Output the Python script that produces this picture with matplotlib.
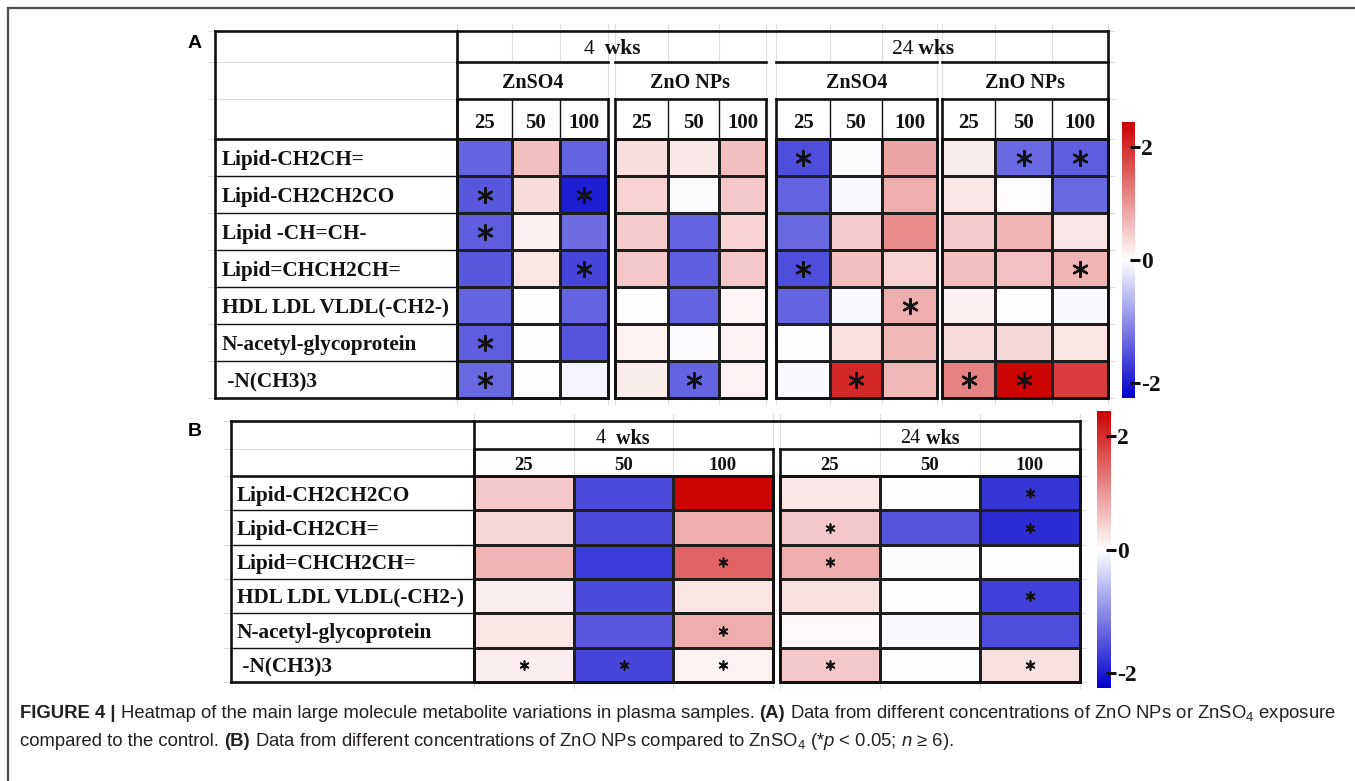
import numpy as np
import matplotlib
matplotlib.use('Agg')
import matplotlib.pyplot as plt
from matplotlib.colors import LinearSegmentedColormap, TwoSlopeNorm
from matplotlib.cm import ScalarMappable

plt.rcParams['mathtext.fontset'] = 'custom'
plt.rcParams['mathtext.rm'] = 'Liberation Sans'
plt.rcParams['mathtext.it'] = 'Liberation Sans:italic'
plt.rcParams['mathtext.bf'] = 'Liberation Sans:bold'

SERIF = 'Liberation Serif'
SANS = 'Liberation Sans'

# ---- panel A: change vs control (rows x doses 25/50/100) ----
rows_a = ['Lipid-CH2CH=', 'Lipid-CH2CH2CO', 'Lipid -CH=CH-', 'Lipid=CHCH2CH=',
          'HDL LDL VLDL(-CH2-)', 'N-acetyl-glycoprotein', ' -N(CH3)3']
doses = ['25', '50', '100']
treatments = ['ZnSO4', 'ZnO NPs']
weeks = ['4', '24']

a_4w_znso4 = [[-1.37, 0.62, -1.37],
              [-1.46, 0.34, -1.98],
              [-1.41, 0.14, -1.28],
              [-1.46, 0.26, -1.63],
              [-1.37, 0.00, -1.37],
              [-1.41, 0.01, -1.50],
              [-1.32, 0.02, -0.09]]
a_4w_zno = [[0.32, 0.22, 0.62],
            [0.43, -0.03, 0.53],
            [0.48, -1.37, 0.43],
            [0.53, -1.41, 0.53],
            [0.01, -1.37, 0.10],
            [0.12, -0.03, 0.12],
            [0.19, -1.37, 0.12]]
a_24w_znso4 = [[-1.55, -0.02, 0.87],
               [-1.37, -0.06, 0.77],
               [-1.32, 0.48, 1.10],
               [-1.55, 0.62, 0.43],
               [-1.37, -0.06, 0.77],
               [0.00, 0.29, 0.67],
               [-0.04, 2.06, 0.67]]
a_24w_zno = [[0.19, -1.32, -1.41],
             [0.24, 0.02, -1.32],
             [0.48, 0.72, 0.24],
             [0.62, 0.60, 0.72],
             [0.14, 0.00, -0.04],
             [0.34, 0.38, 0.26],
             [1.20, 2.40, 1.87]]

sig_a_4w_znso4 = [[0, 0, 0], [1, 0, 1], [1, 0, 0], [0, 0, 1], [0, 0, 0], [1, 0, 0], [1, 0, 0]]
sig_a_4w_zno = [[0, 0, 0], [0, 0, 0], [0, 0, 0], [0, 0, 0], [0, 0, 0], [0, 0, 0], [0, 1, 0]]
sig_a_24w_znso4 = [[1, 0, 0], [0, 0, 0], [0, 0, 0], [1, 0, 0], [0, 0, 1], [0, 0, 0], [0, 1, 0]]
sig_a_24w_zno = [[0, 1, 1], [0, 0, 0], [0, 0, 0], [0, 0, 1], [0, 0, 0], [0, 0, 0], [1, 1, 0]]

# ---- panel B: ZnO NPs vs ZnSO4 ----
rows_b = ['Lipid-CH2CH2CO', 'Lipid-CH2CH=', 'Lipid=CHCH2CH=', 'HDL LDL VLDL(-CH2-)',
          'N-acetyl-glycoprotein', ' -N(CH3)3']
b_4w = [[0.53, -1.59, 2.40],
        [0.38, -1.59, 0.77],
        [0.72, -1.72, 1.49],
        [0.16, -1.59, 0.26],
        [0.26, -1.46, 0.77],
        [0.16, -1.63, 0.12]]
b_24w = [[0.22, 0.00, -1.76],
         [0.53, -1.50, -1.85],
         [0.77, -0.03, 0.00],
         [0.29, 0.01, -1.68],
         [0.05, -0.05, -1.55],
         [0.53, 0.00, 0.29]]
sig_b_4w = [[0, 0, 0], [0, 0, 0], [0, 0, 1], [0, 0, 0], [0, 0, 1], [1, 1, 1]]
sig_b_24w = [[0, 0, 1], [1, 0, 1], [1, 0, 0], [0, 0, 1], [0, 0, 0], [1, 0, 1]]

cbar_ticks = [2, 0, -2]

cmap = LinearSegmentedColormap.from_list('bwr_dark', ['#0000cc', '#ffffff', '#cc0000'])
norm = TwoSlopeNorm(vmin=-2.25, vcenter=0, vmax=2.45)

W, H = 1355, 781
fig = plt.figure(figsize=(W / 100, H / 100), dpi=100)
ax = fig.add_axes([0, 0, 1, 1])
ax.set_xlim(0, W)
ax.set_ylim(H, 0)
ax.axis('off')
renderer = fig.canvas.get_renderer()

OUT = 1.9
IN = 1.0
GRID = '#dedede'
INK = '#111111'
VA = 'center_baseline'


def hline(y, x0, x1, lw=OUT, color=INK, z=4):
    ax.plot([x0, x1], [y, y], color=color, lw=lw, solid_capstyle='projecting', zorder=z)


def vline(x, y0, y1, lw=OUT, color=INK, z=4):
    ax.plot([x, x], [y0, y1], color=color, lw=lw, solid_capstyle='projecting', zorder=z)


def text_width(s, size, family, weight):
    # width with spaces counted: pad with dots on both sides
    t1 = ax.text(0, 0, '.' + s + '.', fontsize=size, family=family, weight=weight)
    t2 = ax.text(0, 0, '..', fontsize=size, family=family, weight=weight)
    w = t1.get_window_extent(renderer).width - t2.get_window_extent(renderer).width
    t1.remove()
    t2.remove()
    return w


def draw_runs(x, y, runs, size, family, color=INK, center=False, va='center'):
    widths = [text_width(s, size, family, w) for s, w in runs]
    total = sum(widths)
    cx = x - total / 2 if center else x
    for (s, w), wd in zip(runs, widths):
        ax.text(cx, y, s, fontsize=size, family=family, weight=w, color=color,
                va=va, ha='left', zorder=6)
        cx += wd
    return total


def heat_block(xe, ye, vals, sig, star_s, star_lw):
    ax.pcolormesh(xe, ye, np.array(vals), cmap=cmap, norm=norm,
                  edgecolors='#1e1e1e', linewidth=IN, zorder=2)
    xe = np.asarray(xe, float)
    ye = np.asarray(ye, float)
    xc = (xe[:-1] + xe[1:]) / 2
    yc = (ye[:-1] + ye[1:]) / 2
    ii, jj = np.nonzero(np.array(sig))
    ax.scatter(xc[jj], yc[ii], marker=(6, 2, 0), s=star_s, linewidths=star_lw,
               color=INK, zorder=5)


def colorbar(x, y, w, h):
    cax = fig.add_axes([x / W, 1 - (y + h) / H, w / W, h / H])
    cb = fig.colorbar(ScalarMappable(norm=norm, cmap=cmap), cax=cax)
    cb.outline.set_visible(False)
    cb.set_ticks(cbar_ticks)
    cb.set_ticklabels([str(t) for t in cbar_ticks])
    cax.tick_params(direction='inout', length=7, width=2.2, pad=1, colors=INK)
    for lab in cax.get_yticklabels():
        lab.set_fontfamily(SERIF)
        lab.set_fontweight('bold')
        lab.set_fontsize(17)


# outer frame of the figure
hline(8, 8, W, lw=1.6, color='#4d4d4d')
vline(8, 8, H, lw=1.6, color='#4d4d4d')

# ================= panel A =================
A_L, A_R, A_T, A_B, A_LAB = 215, 1108, 31, 398, 457
A_HDR = [31, 62, 99, 139]
a_rows = np.linspace(139, 398, len(rows_a) + 1)
a_groups = [[457, 512, 560, 608], [615, 668, 719, 766],
            [776, 830, 882, 937], [942, 995, 1052, 1108]]
a_blocks = [(a_4w_znso4, sig_a_4w_znso4), (a_4w_zno, sig_a_4w_zno),
            (a_24w_znso4, sig_a_24w_znso4), (a_24w_zno, sig_a_24w_zno)]

# light spreadsheet grid
for g in a_groups:
    for x in g:
        vline(x, A_T, A_HDR[1], lw=0.8, color=GRID, z=1)
        vline(x, A_T - 7, A_T, lw=0.8, color=GRID, z=1)
        vline(x, A_B, A_B + 6, lw=0.8, color=GRID, z=1)
    vline(g[0], A_HDR[1], A_HDR[2], lw=0.8, color=GRID, z=1)
    vline(g[-1], A_HDR[1], A_HDR[2], lw=0.8, color=GRID, z=1)
for y in list(A_HDR) + list(a_rows):
    hline(y, A_L - 7, A_L, lw=0.8, color=GRID, z=1)
    hline(y, A_R, A_R + 6, lw=0.8, color=GRID, z=1)
hline(A_HDR[1], A_L, A_LAB, lw=0.8, color=GRID, z=1)
hline(A_HDR[2], A_L, A_LAB, lw=0.8, color=GRID, z=1)

for g, (vals, sig) in zip(a_groups, a_blocks):
    heat_block(g, a_rows, vals, sig, star_s=115, star_lw=1.7)

hline(A_T, A_L, A_R)
vline(A_L, A_T, A_B)
vline(A_R, A_T, A_B)
vline(A_LAB, A_T, A_B)
hline(A_B, A_L, A_LAB)
hline(A_HDR[3], A_L, A_LAB)
for y in a_rows[1:-1]:
    hline(y, A_L, A_LAB, lw=IN)
for g in a_groups:
    hline(A_HDR[1], g[0], g[-1])
    hline(A_HDR[2], g[0], g[-1])
    hline(A_HDR[3], g[0], g[-1])
    hline(A_B, g[0], g[-1])
    vline(g[0], A_HDR[2], A_B)
    vline(g[-1], A_HDR[2], A_B)
    for x in g[1:-1]:
        vline(x, A_HDR[2], A_HDR[3], lw=IN)

# headers
draw_runs(612, 47, [(weeks[0], 'normal'), ('  wks', 'bold')], 15.5, SERIF, center=True, va=VA)
draw_runs(923, 47, [(weeks[1], 'normal'), (' wks', 'bold')], 15.5, SERIF, center=True, va=VA)
for k, g in enumerate(a_groups):
    ax.text((g[0] + g[-1]) / 2, 81, treatments[k % 2], fontsize=14.5, family=SERIF,
            weight='bold', ha='center', va=VA, color=INK)
    for j, d in enumerate(doses):
        ax.text((g[j] + g[j + 1]) / 2, 120, d, fontsize=15, family=SERIF,
                weight='bold', ha='center', va=VA, color=INK)
for i, lab in enumerate(rows_a):
    ax.text(A_L + 7, (a_rows[i] + a_rows[i + 1]) / 2, lab, fontsize=15.3, family=SERIF,
            weight='bold', ha='left', va=VA, color=INK)

ax.text(195, 44, 'A', fontsize=14, family=SANS, weight='bold', ha='center', va='center')
colorbar(1122, 122, 13, 276)

# ================= panel B =================
B_L, B_R, B_T, B_B, B_LAB = 231, 1080, 421, 682, 474
B_HDR = [421, 449, 476]
b_rows = np.linspace(476, 682, len(rows_b) + 1)
b_groups = [[474, 574, 673, 773], [780, 880, 980, 1080]]
b_blocks = [(b_4w, sig_b_4w), (b_24w, sig_b_24w)]

for g in b_groups:
    for x in g:
        vline(x, B_T, B_HDR[2], lw=0.8, color=GRID, z=1)
        vline(x, B_T - 7, B_T, lw=0.8, color=GRID, z=1)
        vline(x, B_B, B_B + 6, lw=0.8, color=GRID, z=1)
for y in list(B_HDR) + list(b_rows):
    hline(y, B_L - 7, B_L, lw=0.8, color=GRID, z=1)
    hline(y, B_R, B_R + 6, lw=0.8, color=GRID, z=1)
hline(B_HDR[1], B_L, B_LAB, lw=0.8, color=GRID, z=1)

for g, (vals, sig) in zip(b_groups, b_blocks):
    heat_block(g, b_rows, vals, sig, star_s=40, star_lw=1.2)

hline(B_T, B_L, B_R)
vline(B_L, B_T, B_B)
vline(B_R, B_T, B_B)
vline(B_LAB, B_T, B_B)
hline(B_B, B_L, B_LAB)
hline(B_HDR[2], B_L, B_LAB)
for y in b_rows[1:-1]:
    hline(y, B_L, B_LAB, lw=IN)
for g in b_groups:
    hline(B_HDR[1], g[0], g[-1])
    hline(B_HDR[2], g[0], g[-1])
    hline(B_B, g[0], g[-1])
    vline(g[0], B_HDR[1], B_B)
    vline(g[-1], B_HDR[1], B_B)

draw_runs(623, 436, [(weeks[0], 'normal'), ('  wks', 'bold')], 14.5, SERIF, center=True, va=VA)
draw_runs(930, 436, [(weeks[1], 'normal'), (' wks', 'bold')], 14.5, SERIF, center=True, va=VA)
for g in b_groups:
    for j, d in enumerate(doses):
        ax.text((g[j] + g[j + 1]) / 2, 463, d, fontsize=13.5, family=SERIF,
                weight='bold', ha='center', va=VA, color=INK)
for i, lab in enumerate(rows_b):
    ax.text(B_L + 6, (b_rows[i] + b_rows[i + 1]) / 2, lab, fontsize=15.3, family=SERIF,
            weight='bold', ha='left', va=VA, color=INK)

ax.text(195, 431, 'B', fontsize=14, family=SANS, weight='bold', ha='center', va='center')
colorbar(1097, 411, 14, 277)

# ================= caption =================
cap1 = [('FIGURE 4 | ', 'bold'),
        ('Heatmap of the main large molecule metabolite variations in plasma samples. ', 'normal'),
        ('(A)', 'bold'),
        (' Data from different concentrations of ZnO NPs or ZnSO$_4$ exposure', 'normal')]
cap2 = [('compared to the control. ', 'normal'),
        ('(B)', 'bold'),
        (' Data from different concentrations of ZnO NPs compared to ZnSO$_4$ '
         '(*$p$ < 0.05; $n$ \u2265 6).', 'normal')]

base = 11.5
w1 = sum(text_width(s, base, SANS, w) for s, w in cap1)
cap_size = base * (1338 - 20) / w1
draw_runs(20, 713, cap1, cap_size, SANS, color='#231f20')
draw_runs(20, 742, cap2, cap_size, SANS, color='#231f20')

fig.savefig('out.png', dpi=100)
